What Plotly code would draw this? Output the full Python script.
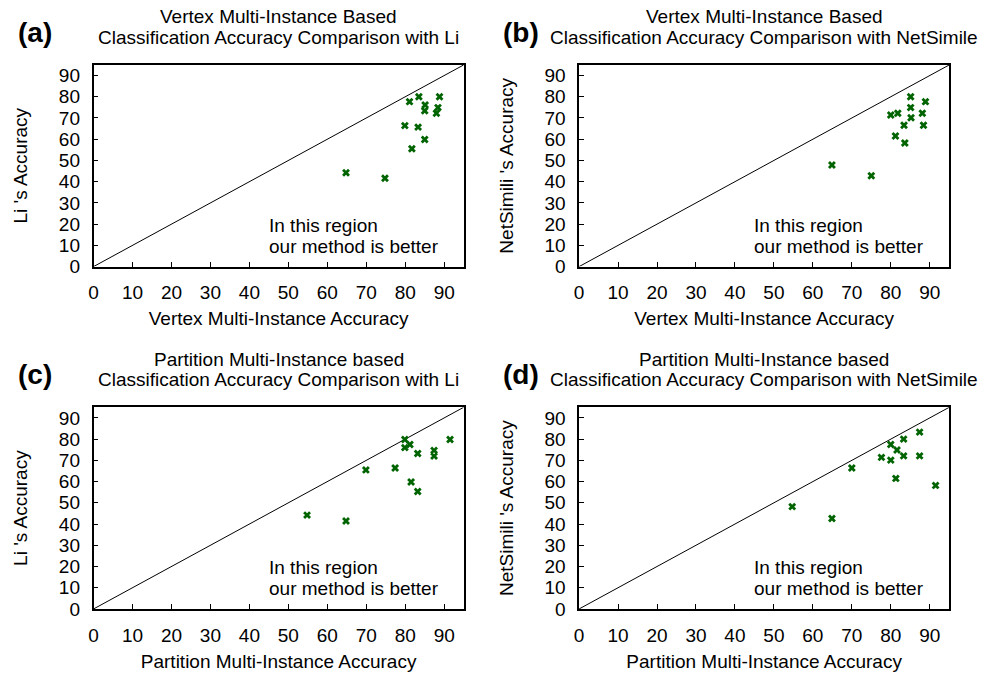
import plotly.graph_objects as go

# Panel (a): Vertex multi-instance vs Li
a_x = [83.5, 88.8, 81.1, 85.1, 88.4, 85.0, 88.0, 79.9, 83.3, 85.0, 81.7, 64.8, 74.8]
a_y = [80.0, 80.0, 77.7, 76.1, 74.9, 73.4, 72.2, 66.4, 65.7, 59.9, 55.5, 44.2, 41.6]
# Panel (b): Vertex multi-instance vs NetSimile
b_x = [85.1, 88.9, 85.1, 80.0, 81.8, 88.1, 85.2, 83.4, 88.4, 81.2, 83.6, 64.9, 75.0]
b_y = [80.0, 77.7, 74.9, 71.4, 72.2, 72.2, 70.1, 66.6, 66.6, 61.5, 58.2, 47.9, 42.8]
# Panel (c): Partition multi-instance vs Li
c_x = [79.9, 81.2, 79.9, 91.5, 83.2, 87.4, 87.4, 69.9, 77.4, 81.5, 83.2, 64.8, 54.8]
c_y = [79.8, 77.5, 76.0, 79.8, 73.2, 74.7, 72.0, 65.5, 66.4, 59.8, 55.3, 41.4, 44.2]
# Panel (d): Partition multi-instance vs NetSimile
d_x = [87.4, 83.3, 80.0, 81.6, 83.3, 87.4, 77.6, 80.0, 70.0, 81.3, 91.5, 64.9, 54.7]
d_y = [83.3, 80.0, 77.5, 74.9, 72.1, 72.1, 71.4, 70.1, 66.4, 61.5, 58.2, 42.6, 48.2]

ticks = [0, 10, 20, 30, 40, 50, 60, 70, 80, 90]
diag = [0, 95]

panels = [
    ("(a)", ["Vertex Multi-Instance Based", "Classification Accuracy Comparison with Li"],
     "Vertex Multi-Instance Accuracy", "Li 's Accuracy", a_x, a_y),
    ("(b)", ["Vertex Multi-Instance Based", "Classification Accuracy Comparison with NetSimile"],
     "Vertex Multi-Instance Accuracy", "NetSimili 's Accuracy", b_x, b_y),
    ("(c)", ["Partition Multi-Instance based", "Classification Accuracy Comparison with Li"],
     "Partition Multi-Instance Accuracy", "Li 's Accuracy", c_x, c_y),
    ("(d)", ["Partition Multi-Instance based", "Classification Accuracy Comparison with NetSimile"],
     "Partition Multi-Instance Accuracy", "NetSimili 's Accuracy", d_x, d_y),
]
note_lines = ["In this region", "our method is better"]

W, H = 992, 678
xdoms = [(89 / W, 461 / W), (577 / W, 949 / W)]
ydoms = [(1 - 271 / H, 1 - 66 / H), (1 - 619 / H, 1 - 414 / H)]

FONT = "Liberation Sans, Arial, sans-serif"
FS = 19
fig = go.Figure()
layout = dict(
    width=W, height=H, margin=dict(l=0, r=0, t=0, b=0),
    paper_bgcolor="white", plot_bgcolor="white", showlegend=False,
    font=dict(family=FONT, size=FS, color="black"),
)
annotations = []

for i, (lab, title, xt, yt, xs, ys) in enumerate(panels):
    row, col = divmod(i, 2)
    n = "" if i == 0 else str(i + 1)
    xa, ya = "x" + n, "y" + n
    fig.add_trace(go.Scatter(x=diag, y=diag, mode="lines", line=dict(color="black", width=1),
                             xaxis=xa, yaxis=ya, hoverinfo="skip"))
    fig.add_trace(go.Scatter(x=xs, y=ys, mode="markers",
                             marker=dict(symbol="x", size=7, color="#006400",
                                         line=dict(width=0)),
                             xaxis=xa, yaxis=ya))
    common = dict(range=[0, 95], tickvals=ticks, ticks="inside", ticklen=5, tickcolor="black",
                  showline=True, linecolor="black", linewidth=1.5, mirror=True,
                  showgrid=False, zeroline=False, tickfont=dict(size=FS, family=FONT))
    layout["xaxis" + n] = dict(common, domain=list(xdoms[col]), anchor=ya, ticklabelstandoff=8,
                               title=dict(text=xt, font=dict(size=FS), standoff=10))
    layout["yaxis" + n] = dict(common, domain=list(ydoms[row]), anchor=xa, ticklabelstandoff=8,
                               title=dict(text=yt, font=dict(size=FS), standoff=26))
    x0, x1 = xdoms[col]
    ytop = ydoms[row][1]
    for k, (line, off) in enumerate(zip(title, [49, 28])):
        annotations.append(dict(text=line, x=(x0 + x1) / 2, y=ytop + off / H, xref="paper",
                                yref="paper", xanchor="center", yanchor="middle", showarrow=False,
                                font=dict(size=FS, family=FONT)))
    annotations.append(dict(text="<b>" + lab + "</b>", x=x0 - 78 / W, y=ytop + 33 / H,
                            xref="paper", yref="paper", xanchor="left", yanchor="middle",
                            showarrow=False, font=dict(size=28, family=FONT)))
    for line, yv in zip(note_lines, [19.4, 9.5]):
        annotations.append(dict(text=line, x=44.5, y=yv, xref=xa, yref=ya, xanchor="left",
                                yanchor="middle", align="left", showarrow=False,
                                font=dict(size=FS, family=FONT)))

layout["annotations"] = annotations
fig.update_layout(**layout)
fig.write_html("out.html")
